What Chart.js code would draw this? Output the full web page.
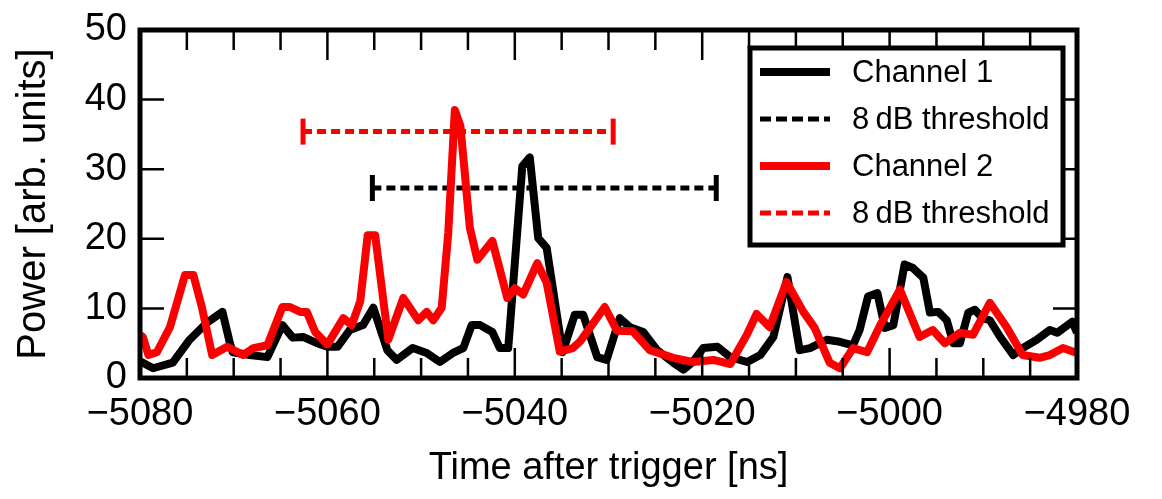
<!DOCTYPE html>
<html>
<head>
<meta charset="utf-8">
<script src="https://cdn.jsdelivr.net/npm/chart.js@4.4.0/dist/chart.umd.min.js"></script>
<style>
  html, body { margin: 0; padding: 0; background: #fff; }
  #wrap { width: 1162px; height: 499px; }
</style>
</head>
<body>
<div id="wrap"><canvas id="chart"></canvas></div>
<script>
// values (time in ns, power in arb. units)
const ch1Time = [-5080, -5079.7, -5078.6, -5076.5, -5074.7, -5072.9, -5071.2, -5070.4, -5070.1, -5068.3, -5066.4,
  -5064.8, -5063.7, -5062.6, -5061.1, -5060.0, -5058.9, -5057.6, -5056.2, -5055.1, -5053.6, -5052.6, -5050.9,
  -5049.4, -5048.0, -5046.6, -5045.5, -5044.6, -5043.7, -5042.4, -5041.6, -5040.7, -5039.2, -5038.4, -5037.5,
  -5036.6, -5034.9, -5033.6, -5032.7, -5031.2, -5030.2, -5028.8, -5027.7, -5026.3, -5024.8, -5023.1, -5022.0,
  -5021.0, -5019.9, -5018.4, -5017.0, -5015.2, -5013.8, -5012.4, -5010.9, -5009.6, -5008.5, -5006.7, -5005.3,
  -5003.9, -5003.2, -5002.3, -5001.3, -5000.5, -4999.6, -4998.4, -4997.5, -4996.4, -4995.7, -4994.8, -4993.9,
  -4993.2, -4992.5, -4991.6, -4990.9, -4990.1, -4989.3, -4988.2, -4986.8, -4985.8, -4984.3, -4982.9, -4982.1,
  -4980.5, -4980];
const ch1Power = [2.4, 2.2, 1.4, 2.2, 5.5, 7.9, 9.5, 5.0, 3.7, 3.3, 3.0,
  7.6, 5.8, 5.9, 5.0, 4.5, 4.5, 6.9, 7.6, 10.1, 4.0, 2.6, 4.3,
  3.6, 2.3, 3.6, 4.3, 7.6, 7.6, 6.6, 4.3, 4.3, 30.4, 31.7, 20.1,
  18.7, 3.7, 9.1, 9.1, 3.0, 2.6, 8.6, 7.3, 6.6, 4.0, 2.2, 1.2,
  2.3, 4.3, 4.5, 3.0, 2.3, 3.3, 5.9, 14.5, 4.0, 4.3, 5.5, 5.2,
  4.7, 6.9, 11.7, 12.2, 7.2, 7.6, 16.3, 15.8, 14.4, 9.4, 9.5, 8.3,
  5.0, 5.0, 9.4, 9.8, 8.6, 8.3, 5.9, 3.3, 4.3, 5.5, 6.9, 6.5,
  8.1, 6.5];

const ch2Time = [-5080, -5079.7, -5079.1, -5078.2, -5076.8, -5075.2, -5074.3, -5073.4, -5072.3, -5070.7, -5069.0,
  -5067.9, -5066.4, -5064.8, -5064.0, -5062.9, -5062.2, -5061.3, -5060.0, -5058.3, -5057.4, -5056.5, -5055.7,
  -5054.9, -5053.5, -5051.9, -5050.3, -5049.4, -5048.7, -5047.8, -5047.1, -5046.4, -5045.8, -5044.8, -5044.0,
  -5042.4, -5040.8, -5040.0, -5039.1, -5037.6, -5036.6, -5035.2, -5033.8, -5033.0, -5030.4, -5029.1, -5027.4,
  -5025.6, -5023.1, -5021.0, -5018.8, -5017.0, -5015.2, -5014.2, -5012.8, -5011.0, -5009.2, -5008.0, -5006.4,
  -5005.3, -5003.9, -5002.4, -5001.0, -4998.9, -4996.8, -4995.4, -4994.1, -4992.5, -4991.1, -4989.3, -4987.5,
  -4985.8, -4984.0, -4982.9, -4981.5, -4980.0];
const ch2Power = [6.2, 5.9, 3.3, 3.7, 7.3, 14.8, 14.8, 10.2, 3.3, 4.5, 3.3,
  4.3, 4.7, 10.2, 10.2, 9.5, 9.5, 6.6, 4.8, 8.6, 7.6, 11.0, 20.5,
  20.5, 5.5, 11.5, 8.3, 9.5, 8.3, 10.1, 20.9, 38.5, 36.2, 21.6, 17.0,
  19.7, 11.5, 12.9, 12.0, 16.5, 13.7, 3.8, 4.3, 5.3, 10.2, 6.8, 6.7,
  4.0, 2.9, 2.3, 2.6, 2.0, 6.3, 9.2, 7.3, 13.8, 9.5, 7.2, 2.2,
  1.4, 4.3, 3.7, 7.6, 12.7, 5.9, 6.9, 5.0, 6.5, 6.2, 10.8, 7.3,
  3.3, 2.9, 3.3, 4.3, 3.6];

// 8 dB threshold bars (start, end) and level
const thr1Time = [-5055.2, -5018.5];
const thr1Power = [27.3, 27.3];
const thr2Time = [-5062.6, -5029.5];
const thr2Power = [35.4, 35.4];

const xTicks = [-5080, -5060, -5040, -5020, -5000, -4980];
const yTicks = [0, 10, 20, 30, 40, 50];
const seriesLabels = ["Channel 1", "8\u2009dB threshold", "Channel 2", "8\u2009dB threshold"];

const RED = "rgb(250,0,0)";
const FONT = "'Liberation Sans', Arial, Helvetica, sans-serif";

function pts(xs, ys) {
    return xs.map((x, i) => ({ x: x, y: ys[i] }));
}

// frame + inward tick marks on all four sides
const framePlugin = {
    id: "frame",
    afterDatasetsDraw(chart) {
        const { ctx, chartArea: a, scales } = chart;
        const x = scales.x, y = scales.y;
        ctx.save();
        ctx.strokeStyle = "#000";
        ctx.lineWidth = 2.5;
        ctx.beginPath();
        for (let v = x.min; v <= x.max; v += 5) {
            const px = x.getPixelForValue(v);
            const len = (v % 20 === 0) ? 30 : 20;
            ctx.moveTo(px, a.bottom); ctx.lineTo(px, a.bottom - len);
            ctx.moveTo(px, a.top); ctx.lineTo(px, a.top + len);
        }
        yTicks.forEach(v => {
            const py = y.getPixelForValue(v);
            ctx.moveTo(a.left, py); ctx.lineTo(a.left + 24, py);
            ctx.moveTo(a.right, py); ctx.lineTo(a.right - 24, py);
        });
        ctx.stroke();
        ctx.lineWidth = 5;
        ctx.strokeRect(a.left, a.top, a.width, a.height);
        ctx.restore();
    }
};

// boxed legend in the upper right corner
const boxLegend = {
    id: "boxLegend",
    afterDraw(chart) {
        const { ctx, chartArea: a } = chart;
        const w = 313, h = 197;
        const left = a.right - 14 - w, top = a.top + 18;
        ctx.save();
        ctx.fillStyle = "#fff";
        ctx.fillRect(left, top, w, h);
        ctx.lineWidth = 5;
        ctx.strokeStyle = "#000";
        ctx.strokeRect(left, top, w, h);
        chart.data.datasets.forEach((ds, i) => {
            const ry = top + 24 + i * 47;
            ctx.beginPath();
            ctx.strokeStyle = ds.borderColor;
            ctx.lineWidth = ds.borderDash ? 5 : 8;
            ctx.setLineDash(ds.borderDash ? [11, 5] : []);
            ctx.moveTo(left + 10, ry);
            ctx.lineTo(left + 80, ry);
            ctx.stroke();
            ctx.setLineDash([]);
            ctx.fillStyle = "#000";
            ctx.font = "31px " + FONT;
            ctx.textBaseline = "middle";
            ctx.fillText(ds.label, left + 102, ry + 1);
        });
        ctx.restore();
    }
};

const threshold = (label, xs, ys, color) => ({
    label: label,
    data: pts(xs, ys),
    borderColor: color,
    borderWidth: 5,
    borderDash: [9, 5],
    pointStyle: "line",
    rotation: 90,
    pointRadius: 13,
    pointBorderColor: color,
    pointBorderWidth: 5,
    order: 3
});

// drop the label overhang padding so the plot box sits where the figure has it
const noOverhang = s => { s.paddingTop = 0; s.paddingBottom = 0; s.paddingLeft = 0; s.paddingRight = 0; };

new Chart(document.getElementById("chart"), {
    type: "line",
    data: {
        datasets: [
            { label: seriesLabels[0], data: pts(ch1Time, ch1Power), borderColor: "#000", borderWidth: 8,
              pointRadius: 0, borderJoinStyle: "round", order: 1 },
            threshold(seriesLabels[1], thr1Time, thr1Power, "#000"),
            { label: seriesLabels[2], data: pts(ch2Time, ch2Power), borderColor: RED, borderWidth: 8,
              pointRadius: 0, borderJoinStyle: "round", order: 0 },
            threshold(seriesLabels[3], thr2Time, thr2Power, RED)
        ]
    },
    options: {
        responsive: true,
        maintainAspectRatio: false,
        animation: false,
        layout: { padding: { left: 0, top: 30, right: 85, bottom: 0 } },
        plugins: { legend: { display: false }, tooltip: { enabled: false } },
        scales: {
            x: {
                type: "linear",
                min: -5080,
                max: -4980,
                afterBuildTicks: s => { s.ticks = xTicks.map(v => ({ value: v })); },
                afterFit: s => { s.height = 121; noOverhang(s); },
                grid: { display: false, drawTicks: false },
                border: { display: false },
                ticks: {
                    color: "#000",
                    padding: 14,
                    maxRotation: 0,
                    font: { family: FONT, size: 38 },
                    callback: v => (v < 0 ? "\u2212" : "") + Math.abs(v)
                },
                title: {
                    display: true,
                    text: "Time after trigger [ns]",
                    color: "#000",
                    padding: { top: 6, bottom: 8 },
                    font: { family: FONT, size: 38 }
                }
            },
            y: {
                min: 0,
                max: 50,
                afterBuildTicks: s => { s.ticks = yTicks.map(v => ({ value: v })); },
                afterFit: s => { s.width = 140; noOverhang(s); },
                grid: { display: false, drawTicks: false },
                border: { display: false },
                ticks: {
                    color: "#000",
                    padding: 13,
                    font: { family: FONT, size: 38 }
                },
                title: {
                    display: true,
                    text: "Power [arb. units]",
                    color: "#000",
                    padding: { top: 10, bottom: 10 },
                    font: { family: FONT, size: 40 }
                }
            }
        }
    },
    plugins: [framePlugin, boxLegend]
});
</script>
</body>
</html>
